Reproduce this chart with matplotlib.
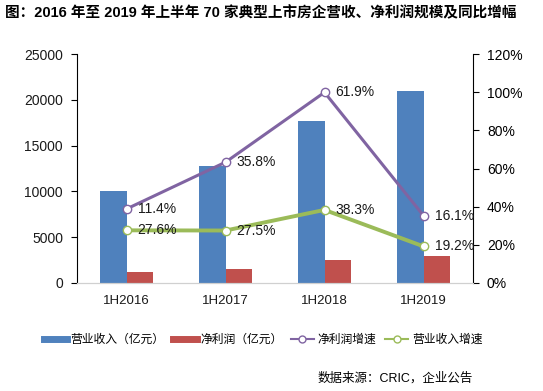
import matplotlib
matplotlib.use("Agg")
import matplotlib.pyplot as plt
import numpy as np
from matplotlib.lines import Line2D

plt.rcParams['font.family'] = ['Liberation Sans', 'Noto Sans CJK SC', 'DejaVu Sans']

categories = ['1H2016', '1H2017', '1H2018', '1H2019']
revenue = [10000, 12800, 17700, 21000]
net_profit = [1230, 1560, 2510, 2950]
profit_growth_pos = [38.8, 63.3, 99.9, 35.3]
profit_growth_labels = ['11.4%', '35.8%', '61.9%', '16.1%']
revenue_growth = [27.6, 27.5, 38.3, 19.2]
revenue_growth_labels = ['27.6%', '27.5%', '38.3%', '19.2%']
left_ticks = [0, 5000, 10000, 15000, 20000, 25000]
right_ticks = [0, 20, 40, 60, 80, 100, 120]

blue = '#4F81BD'
red = '#C0504D'
purple = '#8064A2'
green = '#9BBB59'

fig = plt.figure(figsize=(5.43, 3.91), dpi=100)
ax = fig.add_axes([77/543, 1-283/391, 396/543, 229/391])
ax2 = ax.twinx()

x = np.arange(len(categories))
w = 0.265
ax.bar(x - w/2, revenue, w, color=blue, zorder=2)
ax.bar(x + w/2, net_profit, w, color=red, zorder=2)
ax.set_xlim(-0.5, 3.5)
ax.set_ylim(0, 25000)
ax.set_yticks(left_ticks)
ax.set_yticklabels([str(v) for v in left_ticks])
ax.set_xticks(x)
ax.set_xticklabels(categories)
ax.tick_params(axis='y', direction='out', length=4, width=0.8, colors='black', labelsize=10, pad=6)
ax.tick_params(axis='x', length=0, labelsize=9.5, pad=9)
for lab in ax.get_xticklabels() + ax.get_yticklabels():
    lab.set_color('#1a1a1a')

ax2.set_ylim(0, 120)
ax2.set_yticks(right_ticks)
ax2.set_yticklabels([f'{v}%' for v in right_ticks])
ax2.tick_params(axis='y', direction='out', length=4, width=0.8, labelsize=10, pad=6)

ax2.plot(x, profit_growth_pos, color=purple, lw=2.2, marker='o', ms=6,
         mfc='white', mec=purple, mew=1.0, zorder=3)
ax2.plot(x, revenue_growth, color=green, lw=2.8, marker='o', ms=6,
         mfc='white', mec=green, mew=1.0, zorder=3)
for xi, yi, t in zip(x, profit_growth_pos, profit_growth_labels):
    ax2.annotate(t, (xi, yi), xytext=(8, 0), textcoords='offset points',
                 va='center', ha='left', fontsize=10, color='#1a1a1a')
for xi, yi, t in zip(x, revenue_growth, revenue_growth_labels):
    ax2.annotate(t, (xi, yi), xytext=(8, 0), textcoords='offset points',
                 va='center', ha='left', fontsize=10, color='#1a1a1a')

for a in (ax, ax2):
    a.spines['top'].set_visible(False)
    a.spines['left'].set_color('black')
    a.spines['right'].set_color('black')
    a.spines['bottom'].set_color('#d0d0d0')
    a.spines['left'].set_linewidth(0.8)
    a.spines['right'].set_linewidth(0.8)
ax.spines['right'].set_visible(False)
ax2.spines['left'].set_visible(False)

handles = [
    Line2D([], [], color=blue, lw=5),
    Line2D([], [], color=red, lw=5),
    Line2D([], [], color=purple, lw=1.5, marker='o', ms=5, mfc='white', mec=purple),
    Line2D([], [], color=green, lw=1.5, marker='o', ms=5, mfc='white', mec=green),
]
labels = ['营业收入（亿元）', '净利润（亿元）', '净利润增速', '营业收入增速']
fig.legend(handles, labels, loc='center', bbox_to_anchor=(263/543, 1-340/391), ncol=4,
           frameon=False, fontsize=8.5, handlelength=2.0, handletextpad=0.3, columnspacing=0.7)

fig.text(5/543, 1-13/391, '图：2016 年至 2019 年上半年 70 家典型上市房企营收、净利润规模及同比增幅',
         fontsize=10.5, fontweight='bold', va='center', ha='left')
fig.text(473/543, 1-378/391, '数据来源：CRIC，企业公告', fontsize=9, va='center', ha='right')

fig.savefig('out.png', dpi=100)
